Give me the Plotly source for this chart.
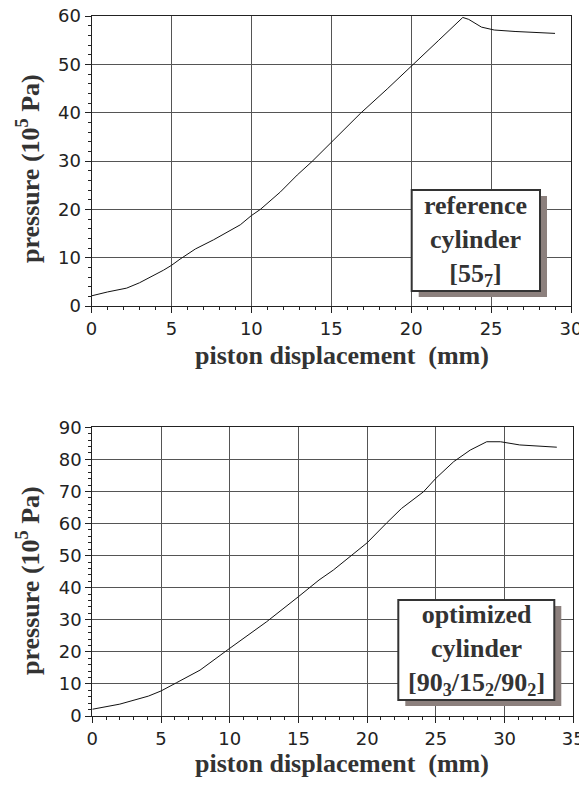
import plotly.graph_objects as go

# Page is 587x789; browser body margin is 8px, so the figure starts at (8, 8)
W, H = 579, 773
OFF = 8

# Reference cylinder [55_7]
x_ref = [0, 1.0, 2.2, 3.0, 4.5, 5.0, 5.54, 6.5, 7.64, 9.31, 10.0, 10.57, 11.82, 12.87, 13.8, 15.05, 16.84, 18.5, 20.07, 21.7, 23.23, 23.6, 24.4, 25.2, 26.5, 27.8, 29.0]
y_ref = [2.1, 2.9, 3.7, 4.8, 7.4, 8.4, 9.7, 11.8, 13.7, 16.8, 18.7, 20.0, 23.6, 27.1, 29.9, 34.0, 39.9, 44.9, 49.9, 54.9, 59.7, 59.3, 57.7, 57.1, 56.8, 56.6, 56.4]

# Optimized cylinder [90_3/15_2/90_2]
x_opt = [0, 2.0, 4.08, 5.0, 6.14, 7.84, 10.0, 12.69, 15.0, 16.5, 17.54, 20.0, 21.4, 22.5, 24.1, 25.0, 26.3, 27.5, 28.7, 29.7, 31.1, 33.8]
y_opt = [2.1, 3.7, 6.2, 7.8, 10.4, 14.3, 21.1, 29.4, 37.2, 42.4, 45.5, 54.0, 60.1, 64.7, 69.9, 74.1, 79.3, 82.9, 85.5, 85.5, 84.5, 83.8]

x_title = "piston displacement  (mm)"
y_title = "pressure (10<sup>5</sup> Pa)"
label_ref = "reference<br>cylinder<br>[55<sub>7</sub>]"
label_opt = "optimized<br>cylinder<br>[90<sub>3</sub>/15<sub>2</sub>/90<sub>2</sub>]"

def px(x):
    return (x - OFF) / W

def py(y):
    return 1 - (y - OFF) / H

fig = go.Figure()
fig.add_trace(go.Scatter(x=x_ref, y=y_ref, mode="lines", line=dict(color="#111", width=1), xaxis="x", yaxis="y", showlegend=False))
fig.add_trace(go.Scatter(x=x_opt, y=y_opt, mode="lines", line=dict(color="#111", width=1), xaxis="x2", yaxis="y2", showlegend=False))

tickfont = dict(family="DejaVu Sans", size=18, color="#222")
common = dict(showline=True, linecolor="#222", linewidth=1, mirror=True,
              showgrid=True, gridcolor="#555", gridwidth=1, zeroline=False,
              ticks="outside", ticklen=6, tickcolor="#222", tickfont=tickfont, fixedrange=True,
              ticklabeloverflow="allow", automargin=False)

def minor(d):
    return dict(dtick=d, ticks="outside", ticklen=3, tickcolor="#222", showgrid=False)

fig.update_layout(
    width=W, height=H, margin=dict(l=0, r=0, t=0, b=0),
    paper_bgcolor="white", plot_bgcolor="white",
    xaxis=dict(domain=[px(91.5), px(571)], range=[0, 30], dtick=5, anchor="y", minor=minor(1), **common),
    yaxis=dict(domain=[py(306), py(16)], range=[0, 60], dtick=10, anchor="x", minor=minor(2), **common),
    xaxis2=dict(domain=[px(92.3), px(573.3)], range=[0, 35], dtick=5, anchor="y2", minor=minor(1), **common),
    yaxis2=dict(domain=[py(716), py(427.3)], range=[0, 90], dtick=10, anchor="x2", minor=minor(2), **common),
)

serif = dict(family="Liberation Serif", size=26, color="#333")

ann = []
for cy in (355, 763):
    ann.append(dict(x=px(342), y=py(cy), xref="paper", yref="paper", text="<b>%s</b>" % x_title,
                    showarrow=False, font=serif, xanchor="center", yanchor="middle"))
for cy in (169, 581):
    ann.append(dict(x=px(28), y=py(cy), xref="paper", yref="paper", text="<b>%s</b>" % y_title,
                    showarrow=False, font=serif, textangle=-90, xanchor="center", yanchor="middle"))

shapes = []

def box(x0, y0, x1, y1, label):
    shapes.append(dict(type="rect", xref="paper", yref="paper", x0=px(x0 + 7), x1=px(x1 + 7),
                       y0=py(y1 + 6), y1=py(y0 + 6), fillcolor="#8c807d", line=dict(width=0), layer="above"))
    shapes.append(dict(type="rect", xref="paper", yref="paper", x0=px(x0), x1=px(x1),
                       y0=py(y1), y1=py(y0), fillcolor="white", line=dict(color="#333", width=2), layer="above"))
    ann.append(dict(x=px((x0 + x1) / 2), y=py((y0 + y1) / 2), xref="paper", yref="paper",
                    text="<b>%s</b>" % label, showarrow=False, font=serif,
                    xanchor="center", yanchor="middle", align="center"))

box(411.7, 190, 540, 291, label_ref)
box(398.3, 600, 554.3, 700, label_opt)

fig.update_layout(annotations=ann, shapes=shapes)
fig.write_html("out.html")
